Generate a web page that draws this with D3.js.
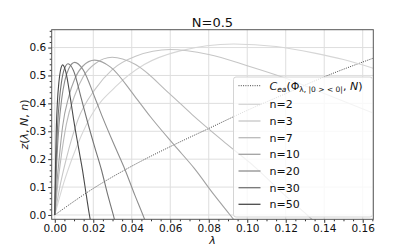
<!DOCTYPE html>
<html>
<head>
<meta charset="utf-8">
<script src="https://cdn.jsdelivr.net/npm/d3@7"></script>
<style>
html,body{margin:0;padding:0;background:#fff;}
svg{display:block;font-family:"DejaVu Sans",sans-serif;}
</style>
</head>
<body>
<svg id="chart" width="415" height="248"></svg>
<script>
const title = "N=0.5";
const xTicks = [0, 0.02, 0.04, 0.06, 0.08, 0.10, 0.12, 0.14, 0.16];
const yTicks = [0, 0.1, 0.2, 0.3, 0.4, 0.5, 0.6];
const seriesNames = ["n=2", "n=3", "n=7", "n=10", "n=20", "n=30", "n=50"];
const seriesColors = ["#d6d6d6", "#c6c6c6", "#bababa", "#a2a2a2", "#8e8e8e", "#747474", "#4a4a4a"];

const lam_n2 = [0, 0.0047, 0.0093, 0.0186, 0.0326, 0.0465, 0.065, 0.093, 0.115, 0.135, 0.15, 0.1655];
const z_n2   = [0, 0.116, 0.208, 0.352, 0.466, 0.539, 0.588, 0.613, 0.604, 0.58, 0.557, 0.526];
const lam_n3 = [0, 0.003, 0.006, 0.012, 0.021, 0.03, 0.042, 0.06, 0.08, 0.10, 0.12, 0.14, 0.1655];
const z_n3   = [0, 0.113, 0.202, 0.341, 0.451, 0.522, 0.569, 0.593, 0.575, 0.535, 0.49, 0.435, 0.365];
const lam_n7 = [0, 0.0015, 0.003, 0.006, 0.0104, 0.0149, 0.0209, 0.0298, 0.0417, 0.0596, 0.0715, 0.0894, 0.1043, 0.1192, 0.1311, 0.1371];
const z_n7   = [0, 0.107, 0.192, 0.325, 0.429, 0.497, 0.542, 0.565, 0.54, 0.435, 0.359, 0.254, 0.17, 0.073, 0.0, -0.037];
const lam_n10 = [0, 0.001, 0.0021, 0.0041, 0.0072, 0.0104, 0.0145, 0.0207, 0.029, 0.0414, 0.0497, 0.0621, 0.0725, 0.0828, 0.0911, 0.0952];
const z_n10   = [0, 0.105, 0.189, 0.319, 0.422, 0.488, 0.533, 0.555, 0.53, 0.427, 0.352, 0.25, 0.167, 0.072, 0.0, -0.036];
const lam_n20 = [0, 0.0005, 0.001, 0.0021, 0.0036, 0.0052, 0.0073, 0.0104, 0.0146, 0.0208, 0.025, 0.0312, 0.0364, 0.0416, 0.0458, 0.0478];
const z_n20   = [0, 0.104, 0.186, 0.315, 0.416, 0.481, 0.525, 0.547, 0.522, 0.421, 0.347, 0.246, 0.164, 0.071, 0.0, -0.036];
const lam_n30 = [0, 0.00035, 0.0007, 0.0014, 0.0024, 0.0035, 0.0048, 0.0069, 0.0097, 0.0138, 0.0166, 0.0207, 0.0242, 0.0276, 0.0304, 0.0317];
const z_n30   = [0, 0.103, 0.184, 0.312, 0.412, 0.477, 0.52, 0.542, 0.518, 0.417, 0.344, 0.244, 0.163, 0.07, 0.0, -0.035];
const lam_n50 = [0, 0.0002, 0.0004, 0.0008, 0.0014, 0.0021, 0.0029, 0.0041, 0.0057, 0.0082, 0.0098, 0.0123, 0.0144, 0.0164, 0.018, 0.0189];
const z_n50   = [0, 0.102, 0.183, 0.309, 0.409, 0.473, 0.516, 0.538, 0.514, 0.414, 0.342, 0.242, 0.161, 0.07, 0.0, -0.035];

const lam_cea = [0, 0.02, 0.04, 0.06, 0.08, 0.10, 0.12, 0.14, 0.1655];
const z_cea   = [0, 0.095, 0.175, 0.245, 0.31, 0.375, 0.435, 0.495, 0.562];

const seriesLam = [lam_n2, lam_n3, lam_n7, lam_n10, lam_n20, lam_n30, lam_n50];
const seriesZ = [z_n2, z_n3, z_n7, z_n10, z_n20, z_n30, z_n50];

const svg = d3.select("#chart");
const L = 51.7, R = 373.3, T = 29.7, B = 219.3;
const x = d3.scaleLinear().domain([-0.0016, 0.1655]).range([L, R]);
const y = d3.scaleLinear().domain([-0.0155, 0.664]).range([B, T]);

svg.append("defs").append("clipPath").attr("id", "clip")
  .append("rect").attr("x", L).attr("y", T).attr("width", R - L).attr("height", B - T);

// grid
const grid = svg.append("g");
xTicks.forEach(t => grid.append("line").attr("x1", x(t)).attr("x2", x(t)).attr("y1", T).attr("y2", B)
  .attr("stroke", "#dedede").attr("stroke-width", 1));
yTicks.forEach(t => grid.append("line").attr("y1", y(t)).attr("y2", y(t)).attr("x1", L).attr("x2", R)
  .attr("stroke", "#dedede").attr("stroke-width", 1));

const plot = svg.append("g").attr("clip-path", "url(#clip)");
const line = d3.line().x(d => x(d[0])).y(d => y(d[1])).curve(d3.curveMonotoneX);

plot.append("path").datum(lam_cea.map((l, i) => [l, z_cea[i]]))
  .attr("d", line).attr("fill", "none").attr("stroke", "#444").attr("stroke-width", 1)
  .attr("stroke-dasharray", "1,1.3");

seriesLam.forEach((lams, k) => {
  plot.append("path").datum(lams.map((l, i) => [l, seriesZ[k][i]]))
    .attr("d", line).attr("fill", "none").attr("stroke", seriesColors[k]).attr("stroke-width", 1.1);
});

// axes
const fmtX = d3.format(".2f"), fmtY = d3.format(".1f");
const xAxis = d3.axisBottom(x).tickValues(xTicks).tickFormat(fmtX).tickSize(3.5).tickPadding(2);
const yAxis = d3.axisLeft(y).tickValues(yTicks).tickFormat(fmtY).tickSize(3.5).tickPadding(2);
const gx = svg.append("g").attr("transform", `translate(0,${B})`).call(xAxis);
const gy = svg.append("g").attr("transform", `translate(${L},0)`).call(yAxis);
[gx, gy].forEach(g => {
  g.select(".domain").remove();
  g.selectAll("line").attr("stroke", "#333");
  g.selectAll("text").attr("fill", "#111").style("font-size", "10.5px").style("font-family", "DejaVu Sans");
});
// minor ticks
const xMinor = d3.range(0, 0.1651, 0.005).filter(v => xTicks.every(t => Math.abs(t - v) > 1e-6));
const yMinor = d3.range(0, 0.661, 0.02).filter(v => yTicks.every(t => Math.abs(t - v) > 1e-6));
svg.append("g").attr("transform", `translate(0,${B})`)
  .call(d3.axisBottom(x).tickValues(xMinor).tickFormat("").tickSize(2))
  .call(g => { g.select(".domain").remove(); g.selectAll("line").attr("stroke", "#333"); });
svg.append("g").attr("transform", `translate(${L},0)`)
  .call(d3.axisLeft(y).tickValues(yMinor).tickFormat("").tickSize(2))
  .call(g => { g.select(".domain").remove(); g.selectAll("line").attr("stroke", "#333"); });

// frame
svg.append("rect").attr("x", L).attr("y", T).attr("width", R - L).attr("height", B - T)
  .attr("fill", "none").attr("stroke", "#555").attr("stroke-width", 1);

// title + labels
svg.append("text").attr("x", (L + R) / 2).attr("y", 26.5).attr("text-anchor", "middle")
  .style("font-size", "13px").attr("fill", "#111").text(title);
svg.append("text").attr("x", (L + R) / 2).attr("y", 244).attr("text-anchor", "middle")
  .style("font-size", "11px").style("font-style", "italic").attr("fill", "#111").text("λ");
const yl = svg.append("text").attr("transform", `translate(28,${(T + B) / 2}) rotate(-90)`)
  .attr("text-anchor", "middle").style("font-size", "11px").attr("fill", "#111");
yl.append("tspan").style("font-style", "italic").text("z");
yl.append("tspan").text("(");
yl.append("tspan").style("font-style", "italic").text("λ");
yl.append("tspan").text(", ");
yl.append("tspan").style("font-style", "italic").text("N");
yl.append("tspan").text(", ");
yl.append("tspan").style("font-style", "italic").text("n");
yl.append("tspan").text(")");

// legend
const lg = svg.append("g");
lg.append("rect").attr("x", 233.5).attr("y", 77).attr("width", 139).attr("height", 140).attr("rx", 2.5)
  .attr("fill", "#fff").attr("fill-opacity", 0.8).attr("stroke", "#d4d4d4").attr("stroke-width", 1);
const rowY = [85.7, 104.3, 121, 137.7, 154.3, 171, 187.7, 204.3];
lg.append("line").attr("x1", 238.5).attr("x2", 260.5).attr("y1", rowY[0]).attr("y2", rowY[0])
  .attr("stroke", "#444").attr("stroke-width", 1).attr("stroke-dasharray", "1,1.3");
const ct = lg.append("text").attr("x", 269.5).attr("y", rowY[0] + 4).style("font-size", "11px").attr("fill", "#111");
ct.append("tspan").style("font-style", "italic").text("C");
ct.append("tspan").style("font-style", "italic").style("font-size", "7.5px").attr("dy", 2.5).text("ea");
ct.append("tspan").attr("dy", -2.5).text("(Φ");
ct.append("tspan").style("font-size", "7.5px").attr("dy", 2.5).text("λ, |0 > < 0|");
ct.append("tspan").attr("dy", -2.5).text(", ");
ct.append("tspan").style("font-style", "italic").text("N");
ct.append("tspan").text(")");
seriesNames.forEach((nm, k) => {
  const yy = rowY[k + 1];
  lg.append("line").attr("x1", 238.5).attr("x2", 260.5).attr("y1", yy).attr("y2", yy)
    .attr("stroke", seriesColors[k]).attr("stroke-width", 1.3);
  lg.append("text").attr("x", 269.5).attr("y", yy + 4).style("font-size", "11px").attr("fill", "#111").text(nm);
});
</script>
</body>
</html>
